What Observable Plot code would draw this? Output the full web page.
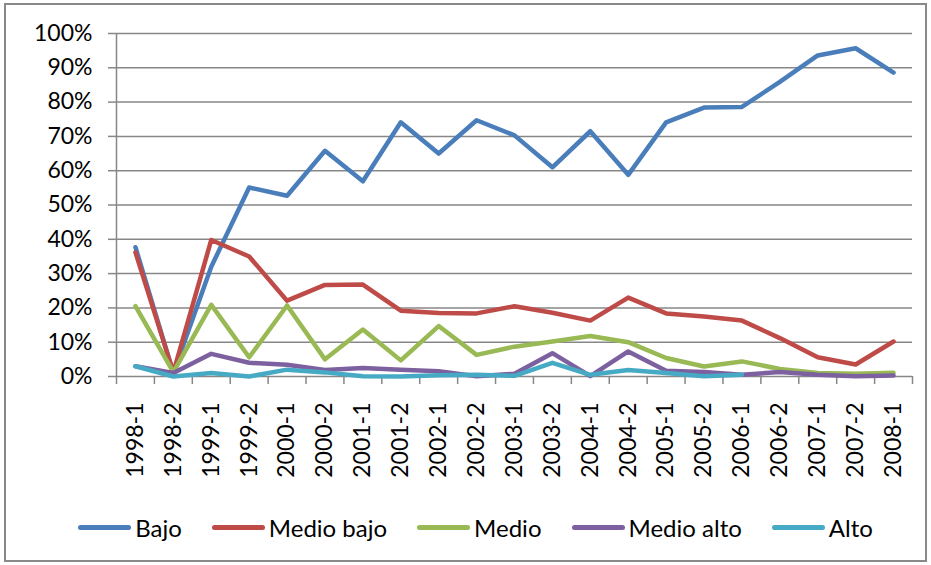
<!DOCTYPE html>
<html><head><meta charset="utf-8">
<script src="https://cdn.jsdelivr.net/npm/d3@7"></script>
<script src="https://cdn.jsdelivr.net/npm/@observablehq/plot@0.6"></script>
<style>
html,body{margin:0;padding:0;background:#fff;}
#wrap{position:relative;width:931px;height:565px;overflow:hidden;}
#chart{position:absolute;left:0;top:0;}
#frame{position:absolute;left:4px;top:3px;width:923px;height:559px;border:2px solid #898989;box-sizing:border-box;pointer-events:none;}
#legend{position:absolute;left:0;top:510px;width:951px;height:34px;display:flex;justify-content:center;align-items:center;gap:30px;font-family:Lato,sans-serif;font-size:24px;color:#000;}
.item{display:flex;align-items:center;gap:4px;}
.sw{width:53px;height:5px;border-radius:3px;}
</style></head><body>
<div id="wrap"><div id="chart"></div><div id="frame"></div><div id="legend"></div></div>
<script>
const periods = ["1998-1","1998-2","1999-1","1999-2","2000-1","2000-2","2001-1","2001-2","2002-1","2002-2","2003-1","2003-2","2004-1","2004-2","2005-1","2005-2","2006-1","2006-2","2007-1","2007-2","2008-1"];
const seriesNames = ["Bajo","Medio bajo","Medio","Medio alto","Alto"];
const seriesColors = ["#4A7EBB","#BE4B48","#98B954","#7D60A0","#46AAC5"];
const bajo      = [37.7, 1.0, 32.0, 55.1, 52.7, 65.8, 56.9, 74.1, 65.0, 74.7, 70.3, 61.0, 71.5, 58.8, 74.1, 78.4, 78.6, 85.9, 93.6, 95.7, 88.6];
const medioBajo = [36.2, 1.2, 39.8, 35.0, 22.1, 26.7, 26.8, 19.2, 18.5, 18.4, 20.5, 18.6, 16.3, 23.0, 18.4, 17.5, 16.3, 11.2, 5.6, 3.5, 10.2];
const medio     = [20.5, 1.3, 20.9, 5.6, 20.7, 5.0, 13.7, 4.7, 14.7, 6.3, 8.7, 10.2, 11.8, 10.0, 5.4, 2.9, 4.4, 2.2, 1.0, 0.8, 1.1];
const medioAlto = [3.0, 1.0, 6.6, 4.0, 3.4, 1.9, 2.5, 2.0, 1.5, 0.1, 0.8, 6.8, 0.1, 7.3, 1.7, 1.3, 0.5, 1.3, 0.5, 0.1, 0.3];
const alto      = [3.0, 0.0, 1.0, 0.0, 2.0, 1.2, 0.1, 0.0, 0.4, 0.5, 0.2, 4.0, 0.5, 1.9, 1.0, 0.1, 0.5, null, null, null, null];
const yTicks = [0,10,20,30,40,50,60,70,80,90,100];

const seriesValues = [bajo, medioBajo, medio, medioAlto, alto];
const data = seriesNames.flatMap((name, s) => seriesValues[s].map((v, i) => ({serie: name, i, v})));
const idx = periods.map((_, i) => i);
const bounds = d3.range(periods.length + 1).map(i => i - 0.5);
const grey = "#878787";

const chart = Plot.plot({
  width: 931, height: 565,
  marginLeft: 116, marginRight: 19, marginTop: 33, marginBottom: 189,
  style: {fontFamily: "Lato, sans-serif", fontSize: "23px", color: "#000", background: "transparent", overflow: "visible"},
  x: {type: "linear", domain: [-0.5, periods.length - 0.5], label: null},
  y: {domain: [0, 100], label: null},
  color: {domain: seriesNames, range: seriesColors},
  marks: [
    Plot.gridY(yTicks, {stroke: grey, strokeOpacity: 1, strokeWidth: 1.5}),
    Plot.ruleX([-0.5], {stroke: grey, strokeWidth: 1.5}),
    Plot.axisY(yTicks, {tickSize: 8, tickPadding: 16, tickFormat: d => d + "%", stroke: grey, strokeOpacity: 1, strokeWidth: 1.5, label: null}),
    Plot.axisX(bounds, {tickSize: 8, tickFormat: () => "", stroke: grey, strokeOpacity: 1, strokeWidth: 1.5, label: null}),
    Plot.axisX(idx, {tickSize: 0, tickPadding: 26, tickRotate: -90, tickFormat: i => periods[i], label: null}),
    Plot.line(data, {x: "i", y: "v", z: "serie", stroke: "serie", strokeWidth: 4.5, strokeLinejoin: "round", strokeLinecap: "round"})
  ]
});
document.getElementById("chart").appendChild(chart);

const legend = document.getElementById("legend");
seriesNames.forEach((name, k) => {
  const item = document.createElement("div");
  item.className = "item";
  const sw = document.createElement("span");
  sw.className = "sw";
  sw.style.background = seriesColors[k];
  const t = document.createElement("span");
  t.textContent = name;
  item.appendChild(sw); item.appendChild(t);
  legend.appendChild(item);
});
</script>
</body></html>
